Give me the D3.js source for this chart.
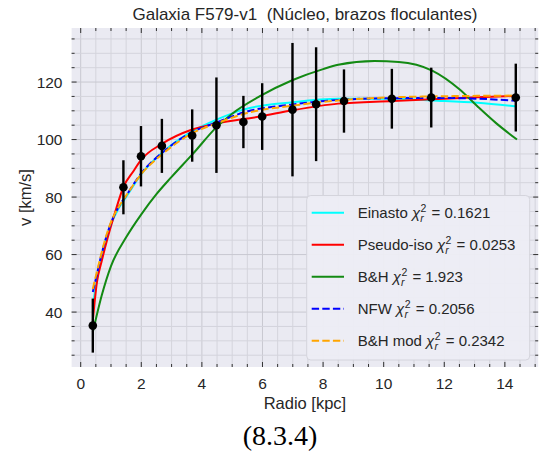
<!DOCTYPE html>
<html>
<head>
<meta charset="utf-8">
<script src="https://cdn.jsdelivr.net/npm/d3@7"></script>
<style>
  body { margin: 0; background: #fff; }
  text { font-family: "Liberation Sans", Arial, sans-serif; fill: #262626; white-space: pre; }
</style>
</head>
<body>
<svg id="chart" width="539" height="457"></svg>
<script>
// observed rotation curve
const radius = [0.4, 1.41, 1.99, 2.68, 3.68, 4.48, 5.37, 5.99, 6.99, 7.77, 8.69, 10.27, 11.57, 14.36];
const vel = [35.3, 83.4, 94.2, 97.8, 101.4, 105.0, 106.1, 108.0, 110.4, 112.3, 113.4, 114.2, 114.6, 114.6];
const velErr = [9.4, 9.4, 10.5, 9.4, 9.1, 16.6, 9.1, 11.6, 23.2, 19.8, 11.0, 10.4, 10.4, 11.8];

// fitted curves
const einastoR = [0.4, 0.5, 0.64, 0.8, 1.0, 1.25, 1.5, 2.0, 2.7, 3.7, 4.5, 5.4, 7.0, 8.5, 10.3, 11.6, 13.1, 14.4];
const einastoV = [42, 49, 57, 64, 70.5, 76, 80, 88, 95.5, 103, 107, 110.5, 113, 114.2, 114.2, 113.6, 112.8, 111.5];

const pisoR = [0.4, 0.53, 0.7, 0.92, 1.13, 1.41, 1.74, 2.0, 2.68, 3.68, 4.48, 5.9, 7.0, 8.5, 10.3, 11.6, 13.1, 14.4];
const pisoV = [37, 50, 58, 67, 74.5, 83.5, 89, 93, 98.5, 103.5, 105.6, 108, 110.2, 112.5, 113.4, 114, 114.7, 115.2];

const bhR = [0.4, 0.7, 1.0, 1.5, 2.0, 2.5, 3.0, 3.7, 4.5, 5.0, 5.9, 7.0, 8.0, 8.5, 9.7, 10.5, 11.6, 12.5, 13.1, 13.7, 14.4];
const bhV = [33, 46, 56, 66, 74, 81, 87, 95, 104.5, 109, 115, 120.7, 124.5, 126, 127.3, 127, 124, 117.5, 111.5, 105.8, 100];

const nfwR = [0.4, 0.5, 0.64, 0.8, 1.0, 1.25, 1.5, 2.0, 2.7, 3.7, 4.5, 5.4, 7.0, 8.5, 10.3, 11.6, 13.1, 14.4];
const nfwV = [47, 51.5, 58, 64.5, 71, 76.5, 80.5, 88.3, 95.5, 102.7, 106, 109.5, 112.2, 113.8, 114.4, 114.5, 114.2, 113.5];

const bhmodR = [0.4, 0.5, 0.64, 0.8, 1.0, 1.25, 1.5, 2.0, 2.7, 3.7, 4.5, 5.4, 7.0, 8.5, 10.3, 11.6, 13.1, 14.4];
const bhmodV = [48, 52.5, 58.5, 65, 71.3, 76.5, 80.5, 88, 95, 102.3, 105.7, 109, 111.8, 113.6, 114.7, 115, 115.2, 115.3];

const modelNames = ["Einasto", "Pseudo-iso", "B&H", "NFW", "B&H mod"];
const chiValues = ["0.1621", "0.0253", "1.923", "0.2056", "0.2342"];
const xTicks = [0, 2, 4, 6, 8, 10, 12, 14];
const yTicks = [40, 60, 80, 100, 120];

const models = [
    { r: einastoR, v: einastoV, color: "#00ffff", dash: null },
    { r: pisoR, v: pisoV, color: "#ff0000", dash: null },
    { r: bhR, v: bhV, color: "#138a13", dash: null },
    { r: nfwR, v: nfwV, color: "#0000ff", dash: "7.4,3.2" },
    { r: bhmodR, v: bhmodV, color: "#ffa500", dash: "7.4,3.2" }
];

const svg = d3.select("#chart");
const plotL = 71.6, plotR = 538.2, plotT = 28, plotB = 367;

const x = d3.scaleLinear().domain([-0.3, 15.1]).range([plotL, plotR]);
const y = d3.scaleLinear().domain([20.9, 138.8]).range([plotB, plotT]);

svg.append("rect")
    .attr("x", plotL).attr("y", plotT)
    .attr("width", plotR - plotL).attr("height", plotB - plotT)
    .attr("fill", "#eaeaf2");

// grid (minor + major)
const g = svg.append("g");
const xMinor = d3.range(0, 15.01, 0.5);
const yMinor = d3.range(25, 136, 5);
g.selectAll(".vx").data(xMinor).join("line")
    .attr("x1", d => x(d)).attr("x2", d => x(d))
    .attr("y1", plotT).attr("y2", plotB)
    .attr("stroke", d => d % 2 === 0 ? "#c8c8d0" : "#d4d4dc")
    .attr("stroke-width", 1);
g.selectAll(".hy").data(yMinor).join("line")
    .attr("y1", d => y(d)).attr("y2", d => y(d))
    .attr("x1", plotL).attr("x2", plotR)
    .attr("stroke", d => d % 20 === 0 ? "#c8c8d0" : "#d4d4dc")
    .attr("stroke-width", 1);

// inward ticks on all four sides
const ticks = svg.append("g").attr("stroke", "#333").attr("stroke-width", 1);
xMinor.forEach(d => {
    const len = d % 2 === 0 ? 5 : 3;
    ticks.append("line").attr("x1", x(d)).attr("x2", x(d)).attr("y1", plotB).attr("y2", plotB - len);
    ticks.append("line").attr("x1", x(d)).attr("x2", x(d)).attr("y1", plotT).attr("y2", plotT + len);
});
yMinor.forEach(d => {
    const len = d % 20 === 0 ? 5 : 3;
    ticks.append("line").attr("y1", y(d)).attr("y2", y(d)).attr("x1", plotL).attr("x2", plotL + len);
    ticks.append("line").attr("y1", y(d)).attr("y2", y(d)).attr("x1", plotR).attr("x2", plotR - len);
});

svg.append("g").selectAll("text").data(xTicks).join("text")
    .attr("x", d => x(d)).attr("y", 389)
    .attr("text-anchor", "middle")
    .style("font-size", "15.5px")
    .text(d => d);

svg.append("g").selectAll("text").data(yTicks).join("text")
    .attr("x", 62.5).attr("y", d => y(d) + 5.5)
    .attr("text-anchor", "end")
    .style("font-size", "15.5px")
    .text(d => d);

// curves
const line = d3.line()
    .x(d => x(d[0])).y(d => y(d[1]))
    .curve(d3.curveMonotoneX);

models.forEach(m => {
    svg.append("path")
        .datum(m.r.map((r, i) => [r, m.v[i]]))
        .attr("d", line)
        .attr("fill", "none")
        .attr("stroke", m.color)
        .attr("stroke-width", 2)
        .attr("stroke-dasharray", m.dash);
});

// data with error bars
const pts = svg.append("g");
pts.selectAll("line").data(radius).join("line")
    .attr("x1", d => x(d)).attr("x2", d => x(d))
    .attr("y1", (d, i) => y(vel[i] - velErr[i]))
    .attr("y2", (d, i) => y(vel[i] + velErr[i]))
    .attr("stroke", "#000").attr("stroke-width", 2.4);
pts.selectAll("circle").data(radius).join("circle")
    .attr("cx", d => x(d)).attr("cy", (d, i) => y(vel[i]))
    .attr("r", 4.3).attr("fill", "#000");

// legend
const lg = svg.append("g");
lg.append("rect")
    .attr("x", 306.7).attr("y", 195.5)
    .attr("width", 223).attr("height", 164.5)
    .attr("rx", 4)
    .attr("fill", "#ededf4").attr("fill-opacity", 0.95)
    .attr("stroke", "#d4d4dc").attr("stroke-width", 1);

modelNames.forEach((name, i) => {
    const cy = 212.7 + i * 32;
    const m = models[i];
    lg.append("line")
        .attr("x1", 311.7).attr("x2", 344)
        .attr("y1", cy).attr("y2", cy)
        .attr("stroke", m.color).attr("stroke-width", 2)
        .attr("stroke-dasharray", m.dash);
    const t = lg.append("text")
        .attr("x", 357.7).attr("y", cy + 5.5)
        .style("font-size", "15px");
    t.append("tspan").text(name + " ");
    t.append("tspan").style("font-style", "italic").text("χ");
    const w = t.node().getComputedTextLength();
    lg.append("text")
        .attr("x", 357.7 + w + 0.5).attr("y", cy - 1)
        .style("font-size", "10.5px")
        .text("2");
    lg.append("text")
        .attr("x", 357.7 + w + 0.2).attr("y", cy + 9.5)
        .style("font-size", "10.5px").style("font-style", "italic")
        .text("r");
    lg.append("text")
        .attr("x", 357.7 + w + 11.5).attr("y", cy + 5.5)
        .style("font-size", "15px")
        .text("= " + chiValues[i]);
});

// titles
svg.append("text")
    .attr("x", (plotL + plotR) / 2).attr("y", 20)
    .attr("text-anchor", "middle")
    .style("font-size", "17px")
    .text("Galaxia F579-v1  (Núcleo, brazos floculantes)");

svg.append("text")
    .attr("x", (plotL + plotR) / 2).attr("y", 409)
    .attr("text-anchor", "middle")
    .style("font-size", "16.5px")
    .text("Radio [kpc]");

svg.append("text")
    .attr("transform", `translate(31, ${(plotT + plotB) / 2}) rotate(-90)`)
    .attr("text-anchor", "middle")
    .style("font-size", "16.5px")
    .text("v [km/s]");

svg.append("text")
    .attr("x", 280).attr("y", 445)
    .attr("text-anchor", "middle")
    .style("font-family", "'Liberation Serif', 'DejaVu Serif', serif")
    .style("font-size", "28px")
    .style("fill", "#000")
    .text("(8.3.4)");
</script>
</body>
</html>
